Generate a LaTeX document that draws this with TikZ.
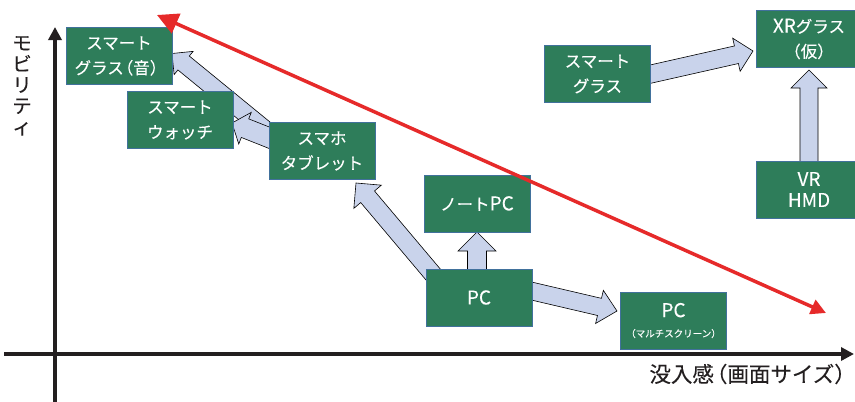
\documentclass[tikz,border=0pt]{standalone}
\usepackage{fontspec}
\setmainfont{Noto Sans CJK JP}[FakeBold=0.15]
\usetikzlibrary{calc,arrows.meta}
\definecolor{boxgreen}{HTML}{2E7D5A}
\definecolor{boxedge}{HTML}{41719C}
\definecolor{arrowfill}{HTML}{C9D3EB}
\definecolor{redline}{HTML}{E62A2A}
\definecolor{axiscol}{HTML}{231F20}
\newcommand\latn[1]{{\fontsize{19}{25}\selectfont #1}}
% start, end, shaft half width, head half width, head length
\newcommand\blockarrow[5]{%
  \coordinate (baq) at ($(#2)!#5!(#1)$);
  \draw[barrow] ($(#1)!#3!90:(#2)$) -- ($(baq)!#3!90:(#2)$) -- ($(baq)!#4!90:(#2)$) -- (#2)
    -- ($(baq)!#4!-90:(#2)$) -- ($(baq)!#3!-90:(#2)$) -- ($(#1)!#3!-90:(#2)$) -- cycle;}
\begin{document}
\begin{tikzpicture}[x=1pt,y=-1pt,
  gbox/.style={draw=boxedge, line width=0.9pt, fill=boxgreen, text=white, align=center,
    minimum width=106pt, minimum height=57pt, inner sep=0pt, font=\fontsize{16.5}{25}\selectfont},
  barrow/.style={draw=black, line width=0.6pt, fill=arrowfill, line join=miter},
  redarrow/.style={draw=redline, line width=3.5pt,
    {Triangle[length=21pt,width=21pt]}-{Triangle[length=15pt,width=15pt]}},
  axisline/.style={draw=axiscol, line width=4.5pt, -{Triangle[length=13pt,width=13pt]}},
  axislabel/.style={text=axiscol, inner sep=0pt}]
\path[use as bounding box] (0,0) rectangle (855,402);
\clip (0,0) rectangle (855,402);
\fill[white] (0,0) rectangle (855,402);

% block arrow end points
\coordinate (a1s) at (290,150); \coordinate (a1e) at (172,53.5);
\coordinate (a2s) at (290,146); \coordinate (a2e) at (232,123);
\coordinate (a3s) at (442,285); \coordinate (a3e) at (356,183);
\coordinate (a4s) at (477,285); \coordinate (a4e) at (477,232);
\coordinate (a5s) at (510,286); \coordinate (a5e) at (617,311);
\coordinate (a6s) at (620,81);  \coordinate (a6e) at (753,51);
\coordinate (a7s) at (809,175); \coordinate (a7e) at (809,70);

\blockarrow{a1s}{a1e}{9pt}{15pt}{15pt}
\blockarrow{a2s}{a2e}{10pt}{17pt}{14pt}
\blockarrow{a3s}{a3e}{9pt}{18pt}{18pt}
\blockarrow{a4s}{a4e}{9.5pt}{19pt}{19pt}
\blockarrow{a5s}{a5e}{8.8pt}{17pt}{18pt}
\blockarrow{a6s}{a6e}{9pt}{17pt}{17pt}
\blockarrow{a7s}{a7e}{9pt}{18pt}{18pt}

% boxes
\node[gbox] (sga) at (119,56) {スマート\\グラス\kern-7pt（音）\kern-3pt};
\node[gbox] (sw) at (180,120) {スマート\\ウォッチ};
\node[gbox] (tab) at (322,151) {スマホ\\タブレット};
\node[gbox] (npc) at (477,203.5) {ノート\latn{PC}};
\node[gbox] (pc) at (479,297.5) {\latn{PC}};
\node[gbox] (mpc) at (673.5,320.5) {\latn{PC}\\[-5pt]{\fontsize{9.5}{12}\selectfont （マルチスクリーン）}};
\node[gbox] (sg) at (597.5,74) {スマート\\グラス};
\node[gbox] (xr) at (809,39) {\latn{XR}グラス\\（仮）};
\node[gbox] (vr) at (809,189.5) {\latn{VR}\\[-4pt]\latn{HMD}};

% red trend arrow
\coordinate (r1) at (157,15);
\coordinate (r2) at (826,313);
\draw[redarrow] (r1) -- (r2);

% axes
\coordinate (yb) at (55,402); \coordinate (yt) at (55,27);
\coordinate (xl) at (4,354);  \coordinate (xr) at (854,354);
\draw[axisline] (yb) -- (yt);
\draw[axisline] (xl) -- (xr);

\node[axislabel, anchor=north, align=center, font=\fontsize{19.5}{21}\selectfont] (ylab) at (22,36) {モ\\ビ\\リ\\テ\\ィ};
\node[axislabel, anchor=east, font=\fontsize{21.5}{23}\selectfont] (xlab) at (856,374) {没入感\kern-8pt（画面サイズ）};
\end{tikzpicture}
\end{document}
